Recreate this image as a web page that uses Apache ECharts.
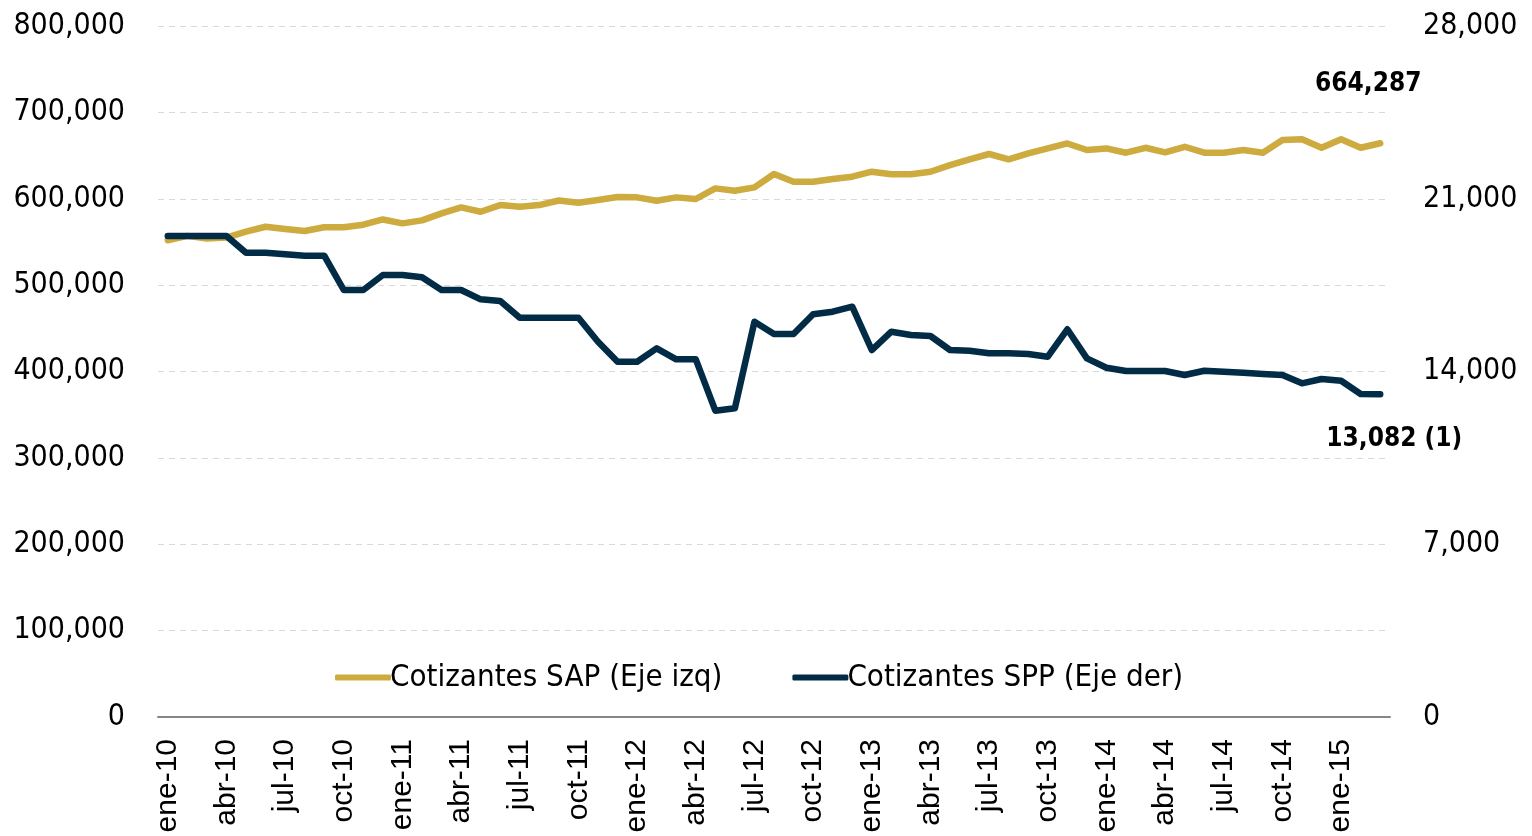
<!DOCTYPE html>
<html>
<head>
<meta charset="utf-8">
<script src="https://cdn.jsdelivr.net/npm/echarts@6/dist/echarts.min.js"></script>
<style>
html,body{margin:0;padding:0;background:#fff;}
#c{width:1532px;height:836px;}
</style>
</head>
<body>
<div id="c"></div>
<script>
const months = ['ene','feb','mar','abr','may','jun','jul','ago','sep','oct','nov','dic'];
const categories = [];
for (let y = 10; y <= 15; y++) {
  for (let m = 0; m < 12; m++) {
    if (y === 15 && m > 2) break;
    categories.push(months[m] + '-' + y);
  }
}
const sapValues = [552000,557000,554000,555000,562000,567600,565000,562600,567000,567000,
  570000,576000,571500,575000,583000,590000,585000,592700,590800,592700,
  598000,595400,598500,602000,601600,597700,601600,599700,612000,609300,
  613200,628600,619700,619700,622800,625500,631300,628300,628300,631300,
  639000,645600,651800,645600,652500,658300,664000,656400,658300,653300,
  659000,653700,660200,653300,653300,656400,653300,668000,668800,659000,
  668800,659000,664287];
const sppValues = [19490,19490,19490,19490,18814,18814,18748,18692,18692,17302,
  17302,17910,17910,17816,17302,17302,16925,16856,16180,16180,
  16180,16180,15207,14397,14397,14937,14494,14494,12411,12508,
  16018,15519,15519,16317,16423,16626,14871,15613,15479,15438,
  14871,14843,14737,14737,14709,14600,15710,14534,14154,14020,
  14020,14020,13858,14032,13992,13951,13898,13858,13521,13696,
  13627,13088,13082];
const leftTicks = [0,100000,200000,300000,400000,500000,600000,700000,800000];
const rightTicks = [0,7000,14000,21000,28000];
const seriesNames = ['Cotizantes SAP (Eje izq)', 'Cotizantes SPP (Eje der)'];
const lastLabels = ['664,287', '13,082 (1)'];

const narrow = '"Liberation Sans Narrow","Arial Narrow","DejaVu Sans Condensed",sans-serif';
const fmt = v => v.toLocaleString('en-US');
const GOLD = '#CDAB3E', NAVY = '#022B45';

const chart = echarts.init(document.getElementById('c'));
chart.setOption({
  animation: false,
  backgroundColor: '#fff',
  grid: {left: 158, right: 142, top: 26, bottom: 119, containLabel: false},
  legend: {
    bottom: 138, left: 330,
    itemWidth: 56, itemHeight: 6, itemGap: 70, icon: 'roundRect',
    textStyle: {fontFamily: narrow, fontSize: 31, color: '#000', padding: [0,0,0,-6]},
    data: seriesNames
  },
  xAxis: {
    type: 'category', data: categories, boundaryGap: true,
    axisLine: {lineStyle: {color: '#868686', width: 2}},
    axisTick: {show: false},
    axisLabel: {interval: 2, rotate: 90, fontFamily: '"Liberation Sans",Arial,sans-serif', fontSize: 30, color: '#000', margin: 22}
  },
  yAxis: [{
    type: 'value', min: 0, max: 800000, interval: 100000,
    axisLine: {show: false}, axisTick: {show: false},
    splitLine: {lineStyle: {color: '#d9d9d9', type: [6, 5], width: 1}},
    axisLabel: {formatter: v => fmt(v), fontFamily: narrow, fontSize: 30, color: '#000', margin: 33}
  }, {
    type: 'value', min: 0, max: 28000, interval: 7000, position: 'right',
    axisLine: {show: false}, axisTick: {show: false}, splitLine: {show: false},
    axisLabel: {formatter: v => fmt(v), fontFamily: narrow, fontSize: 30, color: '#000', margin: 33}
  }],
  series: [{
    name: seriesNames[0], type: 'line', yAxisIndex: 0, data: sapValues,
    symbol: 'none', lineStyle: {color: GOLD, width: 6.5, cap: 'round', join: 'round'}, itemStyle: {color: GOLD},
    markPoint: {
      symbol: 'circle', symbolSize: 0,
      data: [{coord: [categories.length - 1, sapValues[sapValues.length - 1]], value: lastLabels[0]}],
      label: {show: true, formatter: lastLabels[0], position: 'top', distance: 46, offset: [-12, 0],
        fontFamily: narrow, fontWeight: 'bold', fontSize: 26, color: '#000'}
    }
  }, {
    name: seriesNames[1], type: 'line', yAxisIndex: 1, data: sppValues,
    symbol: 'none', lineStyle: {color: NAVY, width: 6.5, cap: 'round', join: 'round'}, itemStyle: {color: NAVY},
    markPoint: {
      symbol: 'circle', symbolSize: 0,
      data: [{coord: [categories.length - 1, sppValues[sppValues.length - 1]], value: lastLabels[1]}],
      label: {show: true, formatter: lastLabels[1], position: 'bottom', distance: 32, offset: [14, 0],
        fontFamily: narrow, fontWeight: 'bold', fontSize: 26, color: '#000'}
    }
  }]
});
</script>
</body>
</html>
